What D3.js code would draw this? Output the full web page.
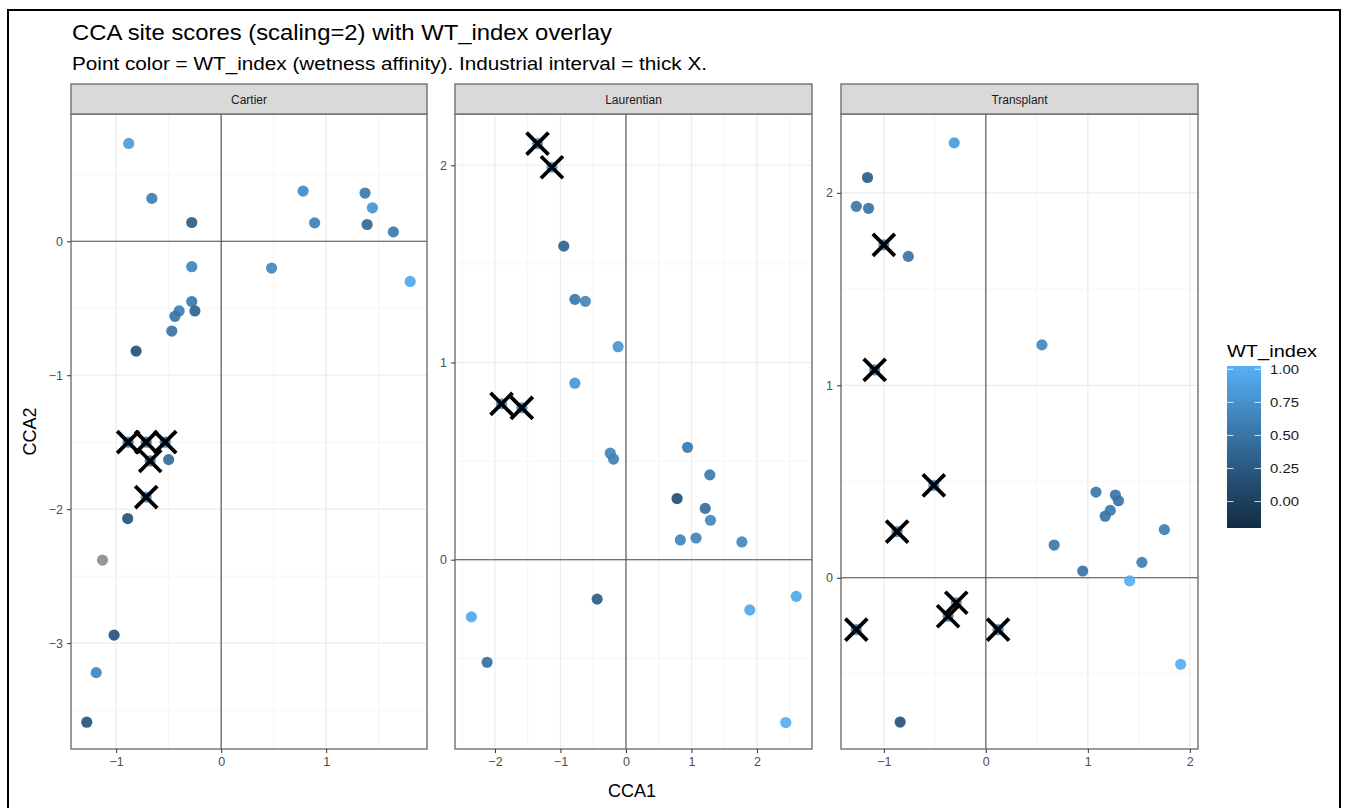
<!DOCTYPE html>
<html>
<head>
<meta charset="utf-8">
<script src="https://cdn.jsdelivr.net/npm/d3@7"></script>
<style>
  html, body { margin: 0; padding: 0; background: #fff; }
  svg { display: block; font-family: "Liberation Sans", Arial, Helvetica, sans-serif; }
</style>
</head>
<body>
<svg id="chart" width="1346" height="808"></svg>
<script>
// ---------------- DATA ----------------
const panels = ["Cartier", "Laurentian", "Transplant"];

// Cartier sites: CCA1, CCA2, WT_index (null = NA)
const cartierX  = [-0.88, -0.66, -0.28, 0.78, 0.89, 1.37, 1.44, 1.39, 1.64, 0.48, 1.80, -0.28, -0.28, -0.25, -0.40, -0.44, -0.47, -0.81, -0.50, -0.89, -1.13, -1.02, -1.19, -1.28];
const cartierY  = [0.73, 0.32, 0.14, 0.375, 0.137, 0.36, 0.25, 0.125, 0.07, -0.20, -0.30, -0.19, -0.45, -0.52, -0.52, -0.56, -0.67, -0.82, -1.63, -2.07, -2.38, -2.94, -3.22, -3.59];
const cartierWT = [0.85, 0.60, 0.30, 0.70, 0.62, 0.55, 0.78, 0.38, 0.55, 0.68, 0.95, 0.65, 0.55, 0.35, 0.60, 0.50, 0.50, 0.18, 0.42, 0.20, null, 0.20, 0.65, 0.22];
// Cartier industrial-interval sites (thick X)
const cartierIndX  = [-0.886, -0.714, -0.533, -0.676, -0.714];
const cartierIndY  = [-1.50, -1.50, -1.50, -1.64, -1.91];
const cartierIndWT = [0.60, 0.60, 0.60, 0.60, 0.80];

// Laurentian sites
const laurX  = [-0.95, -0.78, -0.62, -0.12, -0.78, -0.24, -0.19, 0.94, 1.28, 0.78, 1.21, 1.29, 0.83, 1.07, 1.77, -0.44, -2.36, -2.12, 2.60, 1.89, 2.44];
const laurY  = [1.59, 1.32, 1.31, 1.08, 0.895, 0.54, 0.51, 0.57, 0.43, 0.31, 0.26, 0.20, 0.10, 0.11, 0.09, -0.20, -0.29, -0.52, -0.186, -0.255, -0.826];
const laurWT = [0.35, 0.55, 0.65, 0.80, 0.80, 0.65, 0.62, 0.55, 0.55, 0.15, 0.45, 0.68, 0.65, 0.65, 0.68, 0.28, 0.95, 0.45, 0.95, 0.95, 1.00];
const laurIndX  = [-1.35, -1.13, -1.90, -1.59];
const laurIndY  = [2.11, 1.99, 0.79, 0.77];
const laurIndWT = [0.80, 0.80, 0.80, 0.80];

// Transplant sites
const transX  = [-0.31, -1.16, -1.27, -1.15, -0.76, 0.55, 1.08, 1.27, 1.30, 1.22, 1.17, 1.75, 0.67, 1.53, 0.95, 1.41, 1.91, -0.84];
const transY  = [2.26, 2.08, 1.93, 1.92, 1.67, 1.21, 0.445, 0.43, 0.40, 0.35, 0.32, 0.25, 0.17, 0.08, 0.035, -0.016, -0.45, -0.75];
const transWT = [0.85, 0.30, 0.52, 0.50, 0.50, 0.68, 0.55, 0.50, 0.50, 0.55, 0.50, 0.60, 0.55, 0.62, 0.50, 1.00, 1.00, 0.20];
const transIndX  = [-1.00, -1.09, -0.51, -0.87, -0.29, -0.37, -1.27, 0.12];
const transIndY  = [1.73, 1.08, 0.48, 0.24, -0.13, -0.20, -0.27, -0.27];
const transIndWT = [0.70, 0.70, 0.80, 0.70, 0.80, 0.70, 0.70, 0.70];

// axis domains (free scales per facet) and tick values
const xDomains = [[-1.43, 1.96], [-2.61, 2.84], [-1.42, 2.08]];
const yDomains = [[-3.79, 0.95], [-0.96, 2.26], [-0.89, 2.41]];
const xTicks = [[-1, 0, 1], [-2, -1, 0, 1, 2], [-1, 0, 1, 2]];
const yTicks = [[-3, -2, -1, 0], [0, 1, 2], [0, 1, 2]];

const wtDomain = [-0.2, 1.025];
const legendTicks = [0, 0.25, 0.5, 0.75, 1.0];
const legendLabels = ["0.00", "0.25", "0.50", "0.75", "1.00"];

const titleText = "CCA site scores (scaling=2) with WT_index overlay";
const subtitleText = "Point color = WT_index (wetness affinity). Industrial interval = thick X.";

// ---------------- LAYOUT ----------------
const svg = d3.select("#chart");
const panelLeft = [71, 455, 841];
const panelRight = [427, 812, 1198];
const stripTop = 84, stripBottom = 114, plotBottom = 749;

const colorScale = d3.scaleLinear().domain(wtDomain).range(["#132B43", "#56B1F7"])
  .interpolate(d3.interpolateLab).clamp(true);
const fmt = v => (v < 0 ? "\u2212" : "") + Math.abs(v);

// outer frame
svg.append("rect").attr("x", 8).attr("y", 10).attr("width", 1332).attr("height", 830)
  .attr("fill", "none").attr("stroke", "#000").attr("stroke-width", 2);

svg.append("text").attr("x", 72).attr("y", 40).attr("font-size", 21.5).attr("fill", "#000")
  .attr("textLength", 540).attr("lengthAdjust", "spacingAndGlyphs").text(titleText);
svg.append("text").attr("x", 72).attr("y", 70).attr("font-size", 17.5).attr("fill", "#000")
  .attr("textLength", 635).attr("lengthAdjust", "spacingAndGlyphs").text(subtitleText);

const siteData = [
  {x: cartierX, y: cartierY, wt: cartierWT, ix: cartierIndX, iy: cartierIndY, iwt: cartierIndWT},
  {x: laurX, y: laurY, wt: laurWT, ix: laurIndX, iy: laurIndY, iwt: laurIndWT},
  {x: transX, y: transY, wt: transWT, ix: transIndX, iy: transIndY, iwt: transIndWT}
];

panels.forEach((name, i) => {
  const x = d3.scaleLinear().domain(xDomains[i]).range([panelLeft[i], panelRight[i]]);
  const y = d3.scaleLinear().domain(yDomains[i]).range([plotBottom, stripBottom]);
  const g = svg.append("g");

  g.append("rect").attr("x", panelLeft[i]).attr("y", stripBottom)
    .attr("width", panelRight[i] - panelLeft[i]).attr("height", plotBottom - stripBottom)
    .attr("fill", "#fff");

  // minor grid
  const xMinor = d3.range(Math.ceil(xDomains[i][0] * 2) / 2, xDomains[i][1], 0.5).filter(v => Math.abs(v % 1) > 0.01);
  const yMinor = d3.range(Math.ceil(yDomains[i][0] * 2) / 2, yDomains[i][1], 0.5).filter(v => Math.abs(v % 1) > 0.01);
  g.selectAll(".xmin").data(xMinor).join("line")
    .attr("x1", d => x(d)).attr("x2", d => x(d)).attr("y1", stripBottom).attr("y2", plotBottom)
    .attr("stroke", "#f2f2f2").attr("stroke-width", 0.8);
  g.selectAll(".ymin").data(yMinor).join("line")
    .attr("y1", d => y(d)).attr("y2", d => y(d)).attr("x1", panelLeft[i]).attr("x2", panelRight[i])
    .attr("stroke", "#f2f2f2").attr("stroke-width", 0.8);
  // major grid
  g.selectAll(".xmaj").data(xTicks[i]).join("line")
    .attr("x1", d => x(d)).attr("x2", d => x(d)).attr("y1", stripBottom).attr("y2", plotBottom)
    .attr("stroke", "#ebebeb").attr("stroke-width", 1.2);
  g.selectAll(".ymaj").data(yTicks[i]).join("line")
    .attr("y1", d => y(d)).attr("y2", d => y(d)).attr("x1", panelLeft[i]).attr("x2", panelRight[i])
    .attr("stroke", "#ebebeb").attr("stroke-width", 1.2);

  // reference lines at 0
  g.append("line").attr("x1", x(0)).attr("x2", x(0)).attr("y1", stripBottom).attr("y2", plotBottom)
    .attr("stroke", "#4d4d4d").attr("stroke-width", 1.1);
  g.append("line").attr("y1", y(0)).attr("y2", y(0)).attr("x1", panelLeft[i]).attr("x2", panelRight[i])
    .attr("stroke", "#4d4d4d").attr("stroke-width", 1.1);

  // points
  const d = siteData[i];
  const pts = d.x.map((v, k) => ({x: v, y: d.y[k], wt: d.wt[k]}));
  const ipts = d.ix.map((v, k) => ({x: v, y: d.iy[k], wt: d.iwt[k]}));
  g.selectAll(".pt").data(pts.concat(ipts)).join("circle")
    .attr("cx", p => x(p.x)).attr("cy", p => y(p.y)).attr("r", 5.6)
    .attr("fill", p => p.wt === null ? "#8c8c8c" : colorScale(p.wt))
    .attr("fill-opacity", 0.92);

  // industrial X marks
  const s = 11;
  g.selectAll(".ix").data(ipts).join("path")
    .attr("d", p => {
      const cx = x(p.x), cy = y(p.y);
      return `M${cx - s},${cy - s}L${cx + s},${cy + s}M${cx - s},${cy + s}L${cx + s},${cy - s}`;
    })
    .attr("stroke", "#000").attr("stroke-width", 3.8).attr("fill", "none");

  // panel border
  g.append("rect").attr("x", panelLeft[i]).attr("y", stripBottom)
    .attr("width", panelRight[i] - panelLeft[i]).attr("height", plotBottom - stripBottom)
    .attr("fill", "none").attr("stroke", "#707070").attr("stroke-width", 1.4);

  // strip
  g.append("rect").attr("x", panelLeft[i]).attr("y", stripTop)
    .attr("width", panelRight[i] - panelLeft[i]).attr("height", stripBottom - stripTop)
    .attr("fill", "#d9d9d9").attr("stroke", "#707070").attr("stroke-width", 1.4);
  g.append("text").attr("x", (panelLeft[i] + panelRight[i]) / 2).attr("y", (stripTop + stripBottom) / 2 + 4.5)
    .attr("text-anchor", "middle").attr("font-size", 12).attr("fill", "#1a1a1a").text(name);

  // axes
  const xa = g.append("g").attr("transform", `translate(0,${plotBottom})`)
    .call(d3.axisBottom(x).tickValues(xTicks[i]).tickSize(4).tickSizeOuter(0).tickPadding(4).tickFormat(fmt));
  const ya = g.append("g").attr("transform", `translate(${panelLeft[i]},0)`)
    .call(d3.axisLeft(y).tickValues(yTicks[i]).tickSize(4).tickSizeOuter(0).tickPadding(4).tickFormat(fmt));
  [xa, ya].forEach(a => {
    a.select(".domain").remove();
    a.selectAll(".tick line").attr("stroke", "#333").attr("stroke-width", 1);
    a.selectAll(".tick text").attr("font-size", 12.5).attr("fill", "#4d4d4d")
      .attr("font-family", "'Liberation Sans', Arial, sans-serif");
  });
});

// axis titles
svg.append("text").attr("x", 632).attr("y", 797)
  .attr("text-anchor", "middle").attr("font-size", 18).attr("fill", "#000").text("CCA1");
svg.append("text").attr("transform", `translate(36,${(stripBottom + plotBottom) / 2}) rotate(-90)`)
  .attr("text-anchor", "middle").attr("font-size", 18).attr("fill", "#000").text("CCA2");

// ---------------- LEGEND ----------------
const lx = 1227, lw = 34, lTop = 366, lBottom = 528;
const ly = d3.scaleLinear().domain(wtDomain).range([lBottom, lTop]);
const defs = svg.append("defs");
const grad = defs.append("linearGradient").attr("id", "wtgrad")
  .attr("x1", 0).attr("y1", 1).attr("x2", 0).attr("y2", 0);
d3.range(0, 1.0001, 0.1).forEach(t => {
  grad.append("stop").attr("offset", t)
    .attr("stop-color", colorScale(wtDomain[0] + t * (wtDomain[1] - wtDomain[0])));
});
svg.append("rect").attr("x", lx).attr("y", lTop).attr("width", lw).attr("height", lBottom - lTop)
  .attr("fill", "url(#wtgrad)");
legendTicks.forEach((v, k) => {
  const yy = ly(v);
  svg.append("line").attr("x1", lx).attr("x2", lx + 6.5).attr("y1", yy).attr("y2", yy)
    .attr("stroke", "#fff").attr("stroke-width", 1).attr("stroke-opacity", 0.8);
  svg.append("line").attr("x1", lx + lw - 6.5).attr("x2", lx + lw).attr("y1", yy).attr("y2", yy)
    .attr("stroke", "#fff").attr("stroke-width", 1).attr("stroke-opacity", 0.8);
  svg.append("text").attr("x", lx + lw + 9).attr("y", yy + 4.5).attr("font-size", 12.5)
    .attr("textLength", 29).attr("lengthAdjust", "spacingAndGlyphs")
    .attr("fill", "#1a1a1a").text(legendLabels[k]);
});
svg.append("text").attr("x", lx).attr("y", 357).attr("font-size", 16)
  .attr("textLength", 90).attr("lengthAdjust", "spacingAndGlyphs")
  .attr("fill", "#000").text("WT_index");
</script>
</body>
</html>
